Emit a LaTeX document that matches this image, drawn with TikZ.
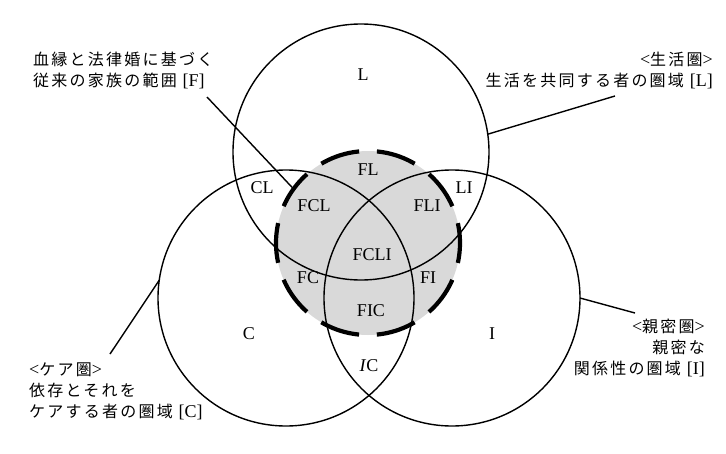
\documentclass[tikz,border=0pt]{standalone}
\usepackage{fontspec}
\setmainfont{Liberation Serif}
\newfontfamily\jp[LetterSpace=14]{Noto Sans CJK JP}
\usetikzlibrary{calc}

\newcommand{\lat}[1]{{\rmfamily\fontsize{18}{21}\selectfont #1}}
\tikzset{
  ring/.style={circle,draw,line width=1.4pt,minimum size=256pt,inner sep=0pt,outer sep=0pt},
  area/.style={font=\fontsize{18}{20}\selectfont},
  note/.style={font=\fontsize{16}{21}\selectfont,inner sep=0pt},
  lead/.style={line width=1.4pt}
}

\begin{document}
\begin{tikzpicture}[x=1pt,y=-1pt]
\useasboundingbox (0,0) rectangle (726,453);
% family F, the three circles L, C, I
\node[circle,fill=gray!30,minimum size=184pt,inner sep=0pt,outer sep=0pt] (F) at (368,243) {};
\node[ring] (L) at (361,152) {};
\node[ring] (C) at (286,298) {};
\node[ring] (I) at (452,298) {};
\draw[line width=4.2pt,dash pattern=on 40pt off 17.8pt,dash phase=20pt] (F.center) circle[radius=92pt];

\node[area] (tL) at (363,75) {L};
\node[area] (tCL) at (262,188) {CL};
\node[area] (tFL) at (368,170) {FL};
\node[area] (tLI) at (464,188) {LI};
\node[area] (tFCL) at (314,206) {FCL};
\node[area] (tFLI) at (427,206) {FLI};
\node[area] (tFCLI) at (372,255) {FCLI};
\node[area] (tFC) at (308,278) {FC};
\node[area] (tFI) at (428,278) {FI};
\node[area] (tFIC) at (371,311) {FIC};
\node[area] (tC) at (249,334) {C};
\node[area] (tI) at (492,334) {I};
\node[area] (tIC) at (369,366) {\textit{I}C};

\node[note,anchor=west,align=left] (nF) at (33,70.5) {\jp 血縁と法律婚に基づく\\\jp 従来の家族の範囲 \lat{[F]}};
\node[note,anchor=east,align=right] (nL) at (713,70.5) {\lat{<}\jp 生活圏\lat{>}\\\jp 生活を共同する者の圏域 \lat{[L]}};
\node[note,anchor=west,align=left] (nC) at (29,391) {\lat{<}\jp ケア圏\lat{>}\\\jp 依存とそれを\\\jp ケアする者の圏域 \lat{[C]}};
\node[note,anchor=east,align=right] (nI) at (705,348) {\lat{<}\jp 親密圏\lat{>}\\\jp 親密な\\\jp 関係性の圏域 \lat{[I]}};

% leaders
\coordinate (Fend) at (207,97);
\coordinate (Lend) at (615,96);
\coordinate (Cend) at (110,354);
\coordinate (Iend) at (635,313);
\draw[lead] (Fend) -- (F.144);
\draw[lead] (Lend) -- (L.8);
\draw[lead] (Cend) -- (C.172);
\draw[lead] (Iend) -- (I.0);
\end{tikzpicture}
\end{document}
